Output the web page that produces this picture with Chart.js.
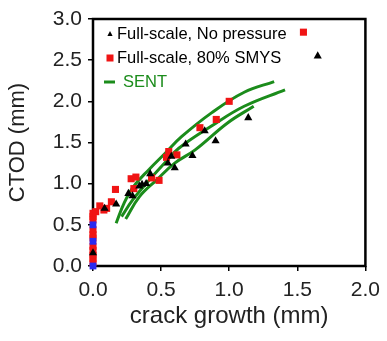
<!DOCTYPE html>
<html>
<head>
<meta charset="utf-8">
<script src="https://cdn.jsdelivr.net/npm/chart.js@4.4.0/dist/chart.umd.min.js"></script>
<style>
  html, body { margin: 0; padding: 0; background: #fff; }
</style>
</head>
<body>
<canvas id="ctodChart" width="387" height="341"></canvas>
<script>
// axis ticks
const xTickValues = [0.0, 0.5, 1.0, 1.5, 2.0];
const yTickValues = [0.0, 0.5, 1.0, 1.5, 2.0, 2.5, 3.0];

// full-scale test, no internal pressure
const noPressureX = [0.00, 0.085, 0.17, 0.26, 0.29, 0.34, 0.36, 0.39, 0.42, 0.55, 0.575, 0.60, 0.68, 0.73, 0.82, 0.90, 1.14, 1.65];
const noPressureY = [0.16, 0.70, 0.75, 0.88, 0.85, 0.97, 0.99, 1.00, 1.12, 1.25, 1.33, 1.19, 1.48, 1.34, 1.64, 1.52, 1.80, 2.55];

// full-scale test, 80% SMYS
const smysX = [0, 0, 0, 0, 0, 0, 0, 0, 0, 0, 0, 0.02, 0.05, 0.08, 0.10, 0.135, 0.165, 0.28, 0.30, 0.315, 0.43, 0.485, 0.54, 0.556, 0.616, 0.785, 0.905, 1.00, 1.545];
const smysY = [0.04, 0.09, 0.13, 0.19, 0.24, 0.34, 0.38, 0.44, 0.56, 0.60, 0.64, 0.66, 0.73, 0.68, 0.70, 0.78, 0.93, 1.06, 0.94, 1.08, 1.07, 1.04, 1.32, 1.39, 1.35, 1.68, 1.78, 2.00, 2.84];

// extra full-scale readings at initiation
const initX = [0, 0, 0];
const initY = [0.00, 0.30, 0.50];

// SENT specimens
const sentAX = [0.17, 0.23, 0.30, 0.41, 0.53, 0.65, 0.87, 1.11, 1.33];
const sentAY = [0.52, 0.77, 0.97, 1.17, 1.37, 1.57, 1.86, 2.11, 2.24];
const sentBX = [0.21, 0.29, 0.40, 0.52, 0.63, 0.87, 1.11, 1.41];
const sentBY = [0.60, 0.80, 1.02, 1.24, 1.43, 1.70, 1.94, 2.14];
const sentCX = [0.24, 0.34, 0.47, 0.60, 0.75, 0.99, 1.18];
const sentCY = [0.57, 0.84, 1.05, 1.25, 1.41, 1.74, 1.94];

const GREEN = '#1b8c1b';
const RED = '#f01414';
const BLUE = '#2a2af0';

const zip = (xs, ys) => xs.map((x, i) => ({ x: x, y: ys[i] }));

function sentLine(xs, ys) {
  return {
    label: 'SENT',
    data: zip(xs, ys),
    showLine: true,
    pointRadius: 0,
    borderColor: GREEN,
    backgroundColor: GREEN,
    borderWidth: 3,
    tension: 0.4,
    fill: false
  };
}

// square frame round the plot area
const plotFrame = {
  id: 'plotFrame',
  beforeDatasetsDraw(chart) {
    const { ctx, chartArea: a } = chart;
    ctx.save();
    ctx.strokeStyle = '#000';
    ctx.lineWidth = 2.5;
    ctx.strokeRect(a.left, a.top, a.right - a.left, a.bottom - a.top);
    ctx.restore();
  }
};

// legend drawn inside the top-left corner of the plot
const insetLegend = {
  id: 'insetLegend',
  afterDatasetsDraw(chart) {
    const { ctx, chartArea: a } = chart;
    const seen = new Set();
    let row = 0;
    ctx.save();
    ctx.font = '16.5px "Liberation Sans", Arial, sans-serif';
    ctx.textBaseline = 'middle';
    chart.data.datasets.forEach(ds => {
      if (!ds.label || seen.has(ds.label)) return;
      seen.add(ds.label);
      const y = a.top + 15 + row * 24;
      const mx = a.left + 17;
      let tx = mx + 7;
      ctx.fillStyle = '#000';
      if (ds.showLine) {
        ctx.strokeStyle = ds.borderColor;
        ctx.lineWidth = 3;
        ctx.beginPath();
        ctx.moveTo(mx - 6, y);
        ctx.lineTo(mx + 5, y);
        ctx.stroke();
        tx = mx + 13;
      } else if (ds.pointStyle === 'triangle') {
        ctx.beginPath();
        ctx.moveTo(mx, y - 3);
        ctx.lineTo(mx + 2.6, y + 2);
        ctx.lineTo(mx - 2.6, y + 2);
        ctx.closePath();
        ctx.fill();
      } else {
        ctx.fillStyle = ds.backgroundColor;
        ctx.fillRect(mx - 3.5, y - 3.5, 7, 7);
      }
      ctx.fillStyle = ds.showLine ? ds.borderColor : '#000';
      ctx.fillText(ds.label, tx, y);
      row++;
    });
    ctx.restore();
  }
};

const tickFont = { family: '"Liberation Sans", Arial, sans-serif', size: 21 };
const fmt = v => Number(v).toFixed(1);

new Chart(document.getElementById('ctodChart').getContext('2d'), {
  type: 'scatter',
  data: {
    datasets: [
      {
        label: '',
        data: zip(initX, initY),
        pointStyle: 'rect',
        pointRadius: 4.8,
        backgroundColor: BLUE,
        borderColor: BLUE,
        borderWidth: 0,
        clip: false
      },
      {
        label: 'Full-scale, No pressure',
        data: zip(noPressureX, noPressureY),
        pointStyle: 'triangle',
        pointRadius: 4.7,
        backgroundColor: '#000',
        borderColor: '#000',
        borderWidth: 0,
        clip: false
      },
      {
        label: 'Full-scale, 80% SMYS',
        data: zip(smysX, smysY),
        pointStyle: 'rect',
        pointRadius: 5,
        backgroundColor: RED,
        borderColor: RED,
        borderWidth: 0,
        clip: false
      },
      sentLine(sentAX, sentAY),
      sentLine(sentBX, sentBY),
      sentLine(sentCX, sentCY)
    ]
  },
  options: {
    responsive: false,
    animation: false,
    devicePixelRatio: 1,
    layout: { padding: { top: 19, right: 16, left: 0, bottom: 0 } },
    plugins: {
      legend: { display: false },
      tooltip: { enabled: false }
    },
    scales: {
      x: {
        type: 'linear',
        min: 0,
        max: 2,
        afterBuildTicks: s => { s.ticks = xTickValues.map(v => ({ value: v })); },
        afterFit: s => { s.height = 75; },
        ticks: { callback: fmt, font: tickFont, color: '#222', padding: 7, maxRotation: 0 },
        grid: { drawOnChartArea: false, drawTicks: true, tickLength: 5, color: '#000', lineWidth: 1.5 },
        border: { display: false },
        title: {
          display: true,
          text: 'crack growth (mm)',
          font: { family: tickFont.family, size: 24 },
          color: '#222',
          padding: { top: 0, bottom: 10 }
        }
      },
      y: {
        type: 'linear',
        min: 0,
        max: 3,
        afterBuildTicks: s => { s.ticks = yTickValues.map(v => ({ value: v })); },
        afterFit: s => { s.width = 93; },
        ticks: { callback: fmt, font: tickFont, color: '#222', padding: 6 },
        grid: { drawOnChartArea: false, drawTicks: true, tickLength: 5, color: '#000', lineWidth: 1.5 },
        border: { display: false },
        title: {
          display: true,
          text: 'CTOD (mm)',
          font: { family: tickFont.family, size: 22 },
          color: '#222',
          padding: { top: 5, bottom: 0 }
        }
      }
    }
  },
  plugins: [plotFrame, insetLegend]
});
</script>
</body>
</html>
